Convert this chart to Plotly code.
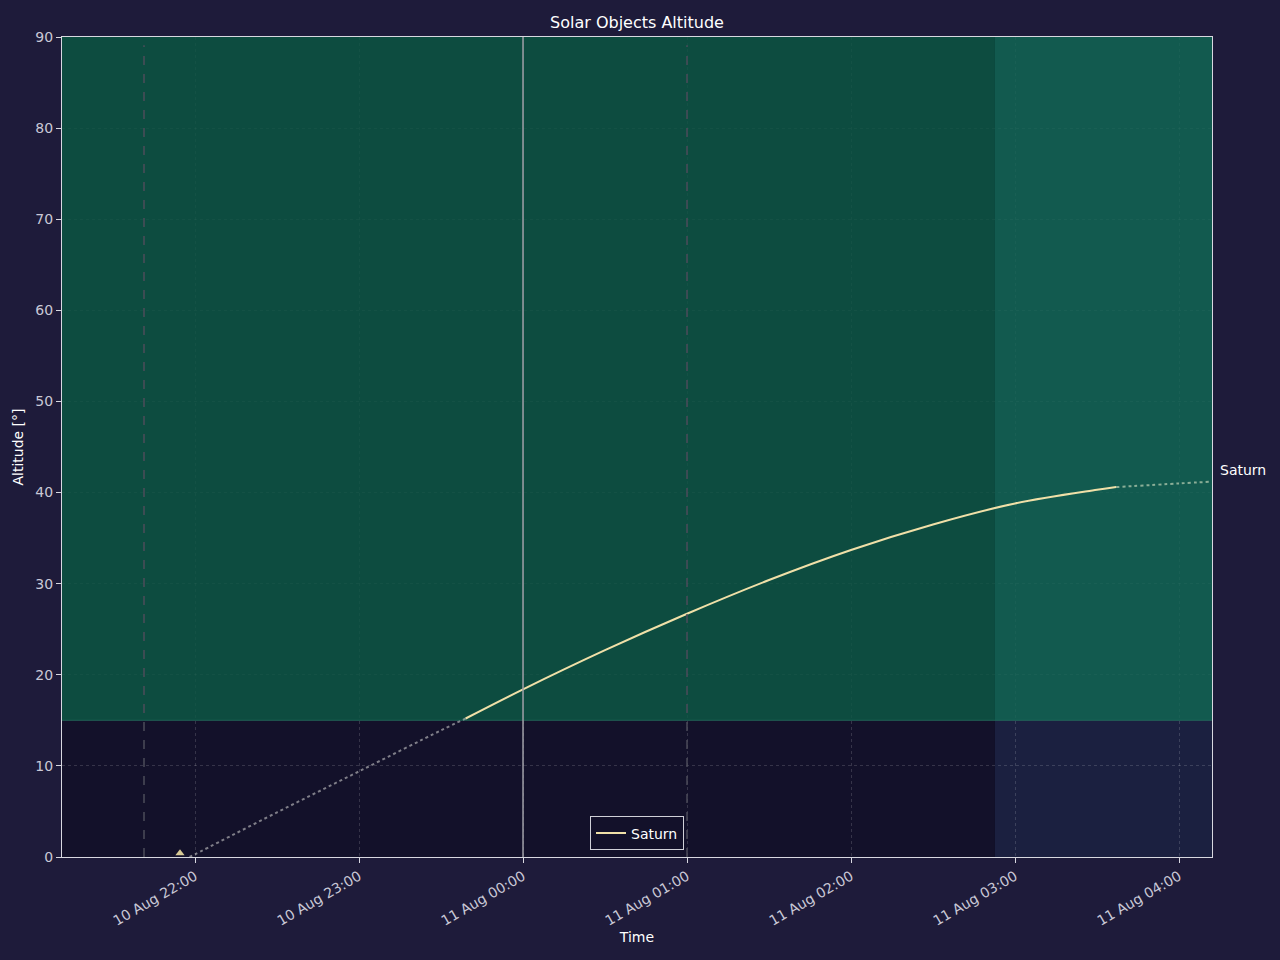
import plotly.graph_objects as go

# Saturn altitude samples
times = ["2024-08-10 21:58", "2024-08-10 22:00", "2024-08-10 22:30", "2024-08-10 23:00",
         "2024-08-10 23:30", "2024-08-10 23:39", "2024-08-11 00:00", "2024-08-11 00:30",
         "2024-08-11 01:00", "2024-08-11 01:30", "2024-08-11 02:00", "2024-08-11 02:30",
         "2024-08-11 03:00", "2024-08-11 03:30", "2024-08-11 03:37", "2024-08-11 04:00",
         "2024-08-11 04:12"]
altitude = [0.0, 0.3, 4.9, 9.4, 13.9, 15.2, 18.4, 22.7, 26.7, 30.4, 33.7, 36.5,
            38.8, 40.3, 40.6, 41.0, 41.2]

# index ranges: below limit (dotted), observable (solid), after cutoff (dotted)
solid_start, solid_end = 5, 14

rise_time = ["2024-08-10 21:54:30"]
rise_alt = [0.4]

x_range = ["2024-08-10 21:11:20", "2024-08-11 04:12:04"]
twilight_start = "2024-08-11 02:52:40"
min_alt = 15
dashed_lines = ["2024-08-10 21:41:20", "2024-08-11 01:00"]
now_line = "2024-08-11 00:00"

bg = "#1e1b3a"
text_col = "#c9c8d6"
line_col = "#f0e0a8"

fig = go.Figure()

# dotted before altitude limit
fig.add_trace(go.Scatter(
    x=times[:solid_start + 1], y=altitude[:solid_start + 1], mode="lines",
    line=dict(color="rgba(200,200,200,0.6)", width=2, dash="dot", shape="spline"),
    showlegend=False, hoverinfo="skip"))
# dotted after cutoff
fig.add_trace(go.Scatter(
    x=times[solid_end:], y=altitude[solid_end:], mode="lines",
    line=dict(color="rgba(220,230,200,0.6)", width=2, dash="dot", shape="spline"),
    showlegend=False, hoverinfo="skip"))
# visible part
fig.add_trace(go.Scatter(
    x=times[solid_start:solid_end + 1], y=altitude[solid_start:solid_end + 1], mode="lines",
    line=dict(color=line_col, width=2, shape="spline"), name="Saturn"))
# rise marker
fig.add_trace(go.Scatter(
    x=rise_time, y=rise_alt, mode="markers", cliponaxis=False,
    marker=dict(symbol="triangle-up", size=8, color="#d6c894"),
    showlegend=False))

shapes = []
# night / twilight regions, above and below the altitude limit
regions = [
    (x_range[0], twilight_start, min_alt, 90, "#0e4c40"),
    (x_range[0], twilight_start, 0, min_alt, "#13112a"),
    (twilight_start, x_range[1], min_alt, 90, "#135a4f"),
    (twilight_start, x_range[1], 0, min_alt, "#1b2040"),
]
for x0, x1, y0, y1, col in regions:
    shapes.append(dict(type="rect", xref="x", yref="y", x0=x0, x1=x1, y0=y0, y1=y1,
                       fillcolor=col, line_width=0, layer="below"))
    if y0 == min_alt:
        # mute the grid in the green zone
        shapes.append(dict(type="rect", xref="x", yref="y", x0=x0, x1=x1, y0=y0, y1=y1,
                           fillcolor=col, opacity=0.8, line_width=0, layer="between"))
shapes.append(dict(type="line", xref="x", yref="y", x0=x_range[0], x1=x_range[1],
                   y0=min_alt, y1=min_alt,
                   line=dict(color="rgba(40,120,100,0.7)", width=1), layer="between"))
for t in dashed_lines:
    shapes.append(dict(type="line", xref="x", yref="paper", x0=t, x1=t, y0=0, y1=0.99,
                       line=dict(color="#4c4c5a", width=1.5, dash="dash")))
shapes.append(dict(type="line", xref="x", yref="paper", x0=now_line, x1=now_line, y0=0, y1=1,
                   line=dict(color="#a0a0a8", width=1.5)))

fig.update_layout(
    width=1280, height=960,
    paper_bgcolor=bg, plot_bgcolor="#13112a",
    font=dict(family="DejaVu Sans", size=14, color=text_col),
    title=dict(text="Solar Objects Altitude", x=0.5, xref="paper", xanchor="center",
               y=1 - 22 / 960, yanchor="middle",
               font=dict(size=16, color="#ffffff")),
    margin=dict(l=62, r=68, t=37, b=103),
    shapes=shapes,
    legend=dict(x=0.5, xanchor="center", y=0.008, yanchor="bottom",
                bgcolor="#13112a", bordercolor="#d0d0d8", borderwidth=1,
                font=dict(size=14, color="#ffffff"), tracegroupgap=0),
    annotations=[dict(text="Saturn", xref="paper", yref="y", x=1, y=42.5,
                      xanchor="left", yanchor="middle", xshift=6, showarrow=False,
                      font=dict(size=14, color="#ffffff"))],
    showlegend=True,
)

fig.update_xaxes(
    range=x_range, type="date", dtick=3600000, tick0="2024-08-10 22:00",
    tickformat="%d %b %H:%M", tickangle=-30,
    title=dict(text="Time", font=dict(color="#ffffff", size=14), standoff=4),
    showgrid=True, gridcolor="rgba(255,255,255,0.15)", griddash="dot", gridwidth=1,
    showline=True, linecolor="#d8d8e0", mirror=True, linewidth=1,
    ticks="outside", ticklen=5, tickcolor="#d8d8e0", zeroline=False,
    tickfont=dict(color=text_col, size=14),
)
fig.update_yaxes(
    range=[0, 90], dtick=10,
    title=dict(text="Altitude [°]", font=dict(color="#ffffff", size=14), standoff=8),
    showgrid=True, gridcolor="rgba(255,255,255,0.15)", griddash="dot", gridwidth=1,
    showline=True, linecolor="#d8d8e0", mirror=True, linewidth=1,
    ticks="outside", ticklen=5, tickcolor="#d8d8e0", zeroline=False,
    tickfont=dict(color=text_col, size=14),
)

fig.write_html("out.html", config={"displayModeBar": False},
               post_script="document.body.style.margin='0';"
                           "document.body.style.background='#1e1b3a';")
